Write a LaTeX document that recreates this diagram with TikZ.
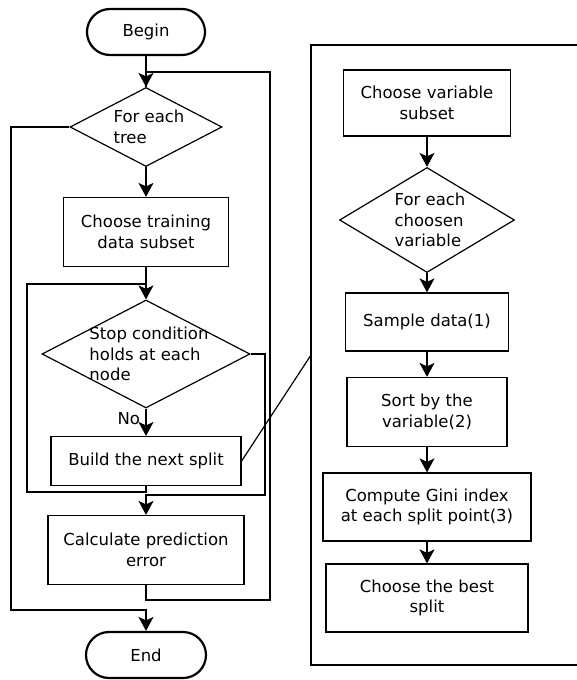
\documentclass[tikz,border=0pt]{standalone}
\usepackage{fontspec}
\setmainfont{DejaVu Sans}
\usetikzlibrary{shapes.geometric,arrows.meta}

\begin{document}
\begin{tikzpicture}[x=1pt, y=-1pt, line width=1.2pt,
    >={Stealth[length=14pt,width=15pt,inset=3.5pt]},
    every node/.style={font=\fontsize{16.5}{20.5}\selectfont},
    term/.style={draw, line width=2.2pt, rounded corners=23pt,
      minimum width=#1, minimum height=46},
    box/.style n args={2}{draw, minimum width=#1, minimum height=#2,
      align=center, inner sep=2pt},
    decision/.style n args={2}{diamond, draw, minimum width=#1,
      minimum height=#2, inner sep=0pt},
    dtext/.style={align=left, xshift=3}]

  \useasboundingbox (0,0) rectangle (577,680);

  % main loop over the trees
  \node[term=118] (begin) at (146,32) {Begin};
  \node[decision={152}{79}, label={[dtext]center:For each\\tree}] (tree) at (146,127) {};
  \node[box={165}{69}] (train) at (146,232) {Choose training\\data subset};
  \node[decision={208}{108}, label={[dtext]center:Stop condition\\holds at each\\node}] (stop) at (146,354) {};
  \node[box={190}{49}] (build) at (146,461) {Build the next split};
  \node[box={196}{69}] (calc) at (146,550) {Calculate prediction\\error};
  \node[term=120] (endt) at (146,655) {End};

  % detail of one split
  \node[box={167}{66}] (subset) at (427,103) {Choose variable\\subset};
  \node[decision={175}{105}, label={[dtext]center:For each\\choosen\\variable}] (each) at (427,220) {};
  \node[box={163}{58}] (sample) at (427,322) {Sample data(1)};
  \node[box={160}{69}] (sort) at (427,412) {Sort by the\\variable(2)};
  \node[box={208}{68}] (gini) at (427,507) {Compute Gini index\\at each split point(3)};
  \node[box={202}{68}] (best) at (427,598) {Choose the best\\split};

  \coordinate (outerTop) at (270,72);
  \coordinate (outerBot) at (270,600);
  \coordinate (outerLeft) at (11,610);
  \coordinate (innerTop) at (27,284);
  \coordinate (innerBot) at (27,492);
  \coordinate (innerRight) at (265,495);
  \coordinate (panelIn) at (311,355);
  \coordinate (panelTL) at (311,45);
  \coordinate (panelTR) at (577,45);
  \coordinate (panelBL) at (311,665);
  \coordinate (panelBR) at (577,665);

  \draw[->] (begin) -- (tree);
  \draw (calc.south) |- (outerBot) -- (outerTop) -| (tree.north);
  \draw[->] (tree.west) -| (outerLeft) -| (endt.north);
  \draw[->] (tree) -- (train);
  \draw[->] (train) -- (stop);
  \draw (build.south) |- (innerBot) -- (innerTop) -- (innerTop -| stop.north);
  \draw[->] (stop.east) -| (innerRight) -| (calc.north);
  \draw[->] (stop) -- (build) node[pos=0.35, left, xshift=-2] {No};

  \draw (build.east) -- (panelIn);
  \draw (panelTR) -- (panelTL) -- (panelBL) -- (panelBR);

  \foreach \a/\b in {subset/each, each/sample, sample/sort, sort/gini, gini/best}
    \draw[->] (\a) -- (\b);

\end{tikzpicture}
\end{document}
